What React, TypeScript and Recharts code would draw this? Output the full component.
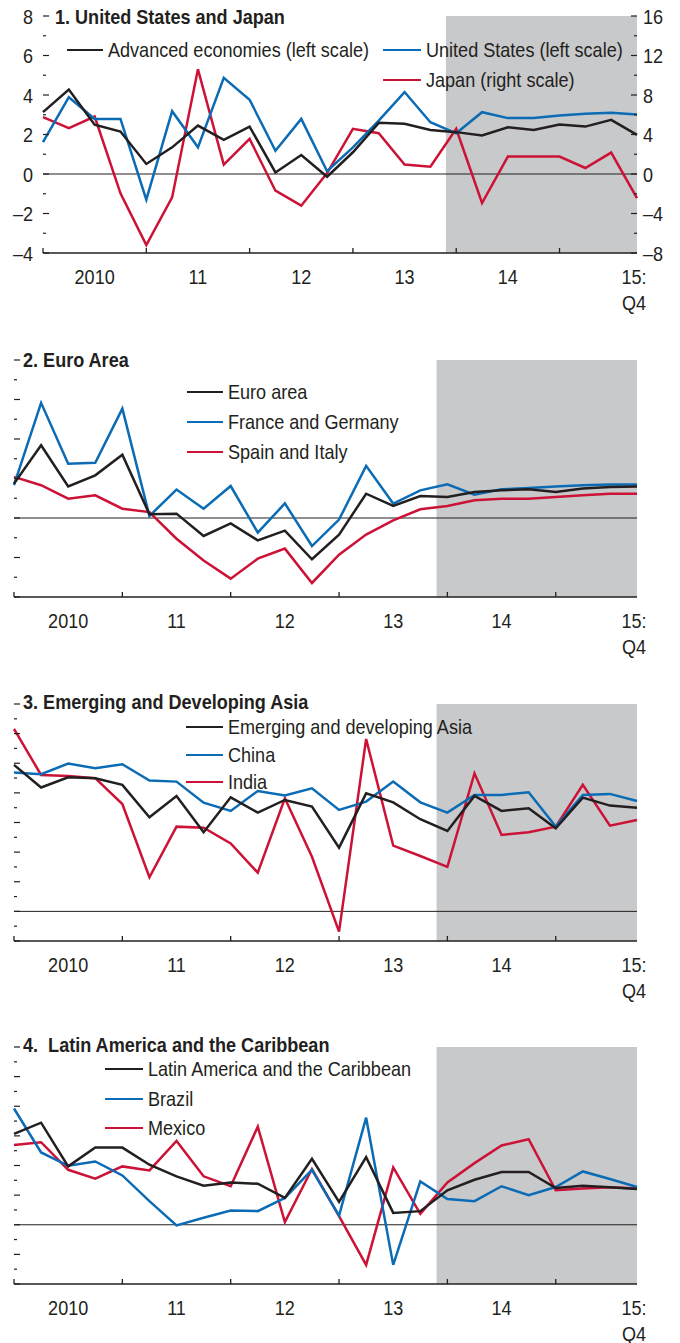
import React from 'react';
import { LineChart, Line, XAxis, YAxis, ReferenceArea, ReferenceLine, Legend } from 'recharts';

// quarterly, 2010:Q1 .. 2015:Q4
const QUARTERS = [
  '2010:Q1', '2010:Q2', '2010:Q3', '2010:Q4',
  '2011:Q1', '2011:Q2', '2011:Q3', '2011:Q4',
  '2012:Q1', '2012:Q2', '2012:Q3', '2012:Q4',
  '2013:Q1', '2013:Q2', '2013:Q3', '2013:Q4',
  '2014:Q1', '2014:Q2', '2014:Q3', '2014:Q4',
  '2015:Q1', '2015:Q2', '2015:Q3', '2015:Q4',
];
const YEAR_LABELS = ['2010', '11', '12', '13', '14'];
const LAST_LABEL = ['15:', 'Q4'];
const X_TICKS = [0, 2, 4, 6, 8, 10, 12, 14, 16, 18, 20, 23];
const PROJ_START = 15.6;

// 1. United States and Japan
const ADVANCED = [3.13, 4.28, 2.5, 2.15, 0.51, 1.35, 2.45, 1.73, 2.4, 0.08, 0.96, -0.14, 1.1, 2.59, 2.54, 2.23, 2.12, 1.95, 2.37, 2.23, 2.5, 2.4, 2.74, 1.98];
const US = [1.61, 3.89, 2.79, 2.79, -1.3, 3.18, 1.35, 4.87, 3.76, 1.18, 2.79, 0.14, 1.35, 2.7, 4.15, 2.62, 2.06, 3.13, 2.83, 2.83, 2.96, 3.05, 3.1, 3.01];
const JAPAN = [5.75, 4.64, 5.82, -1.96, -7.2, -2.37, 10.6, 0.95, 3.55, -1.69, -3.21, 0.1, 4.57, 4.13, 0.95, 0.74, 4.57, -2.94, 1.76, 1.76, 1.76, 0.61, 2.17, -2.44];

// 2. Euro Area
const EURO = [1.74, 3.68, 1.6, 2.16, 3.2, 0.19, 0.22, -0.91, -0.27, -1.13, -0.64, -2.09, -0.85, 1.23, 0.61, 1.11, 1.06, 1.32, 1.4, 1.45, 1.32, 1.49, 1.57, 1.6];
const FRA_DEU = [1.66, 5.83, 2.75, 2.8, 5.54, 0.1, 1.44, 0.47, 1.62, -0.74, 0.74, -1.42, -0.08, 2.64, 0.73, 1.4, 1.71, 1.18, 1.45, 1.52, 1.6, 1.66, 1.69, 1.69];
const ESP_ITA = [2.08, 1.66, 0.98, 1.15, 0.47, 0.3, -1.05, -2.15, -3.07, -2.06, -1.55, -3.29, -1.86, -0.84, -0.12, 0.44, 0.61, 0.9, 0.98, 0.98, 1.06, 1.15, 1.23, 1.23];

// 3. Emerging and Developing Asia
const EDA = [9.89, 8.36, 9.05, 8.99, 8.54, 6.35, 7.79, 5.34, 7.7, 6.67, 7.52, 7.07, 4.3, 7.97, 7.36, 6.22, 5.43, 7.79, 6.78, 6.96, 5.61, 7.68, 7.14, 7.0];
const CHINA = [9.37, 9.26, 9.98, 9.66, 9.93, 8.83, 8.76, 7.34, 6.78, 8.13, 7.82, 8.31, 6.85, 7.41, 8.76, 7.36, 6.67, 7.86, 7.86, 8.04, 5.72, 7.86, 7.93, 7.45];
const INDIA = [12.32, 9.21, 9.14, 8.99, 7.25, 2.3, 5.72, 5.65, 4.59, 2.61, 7.64, 3.69, -1.37, 11.64, 4.44, 3.74, 3.0, 9.32, 5.16, 5.34, 5.72, 8.54, 5.79, 6.17];

// 4. Latin America and the Caribbean
const LAC = [6.13, 6.89, 3.94, 5.21, 5.21, 4.05, 3.27, 2.64, 2.86, 2.77, 1.81, 4.45, 1.54, 4.56, 0.8, 0.92, 2.33, 3.04, 3.56, 3.56, 2.48, 2.64, 2.53, 2.42];
const BRAZIL = [7.85, 4.88, 3.98, 4.27, 3.33, 1.59, -0.04, 0.47, 0.96, 0.92, 1.81, 3.71, 0.62, 7.23, -2.71, 2.93, 1.74, 1.59, 2.6, 1.99, 2.55, 3.6, 3.09, 2.55];
const MEXICO = [5.39, 5.57, 3.71, 3.11, 3.94, 3.67, 5.66, 3.27, 2.6, 6.62, 0.18, 3.76, 0.58, -2.71, 3.87, 0.74, 2.86, 4.16, 5.35, 5.77, 2.33, 2.44, 2.53, 2.44];

const TICKS_P1_LEFT = [-4, -3, -2, -1, 0, 1, 2, 3, 4, 5, 6, 7, 8];
const TICKS_P1_RIGHT = [-8, -6, -4, -2, 0, 2, 4, 6, 8, 10, 12, 14, 16];
const TICKS_P2 = [-4, -3, -2, -1, 0, 1, 2, 3, 4, 5, 6, 7, 8];
const TICKS_P3 = [-2, -1, 0, 1, 2, 3, 4, 5, 6, 7, 8, 9, 10, 11, 12, 13, 14];
const TICKS_P4 = [-4, -3, -2, -1, 0, 1, 2, 3, 4, 5, 6, 7, 8, 9, 10, 11, 12];

const INK = '#231f20';
const BLUE = '#0b6bb5';
const RED = '#cc1236';
const SHADE = '#c8c9cb';
// no condensed face installed, so Liberation Sans squeezed horizontally
const FONT = "'Liberation Sans', Arial, sans-serif";
const FS = 21;
const SQUEEZE = 0.86;

const W = 680;
const H = 344;
const PLOT_TOP = 16;
const PLOT_H = 237;
const X_AXIS_H = 60;

const fmt = (v: number) => (v < 0 ? '\u2013' + Math.abs(v) : String(v));

function SvgLabel({ x, y, anchor, children }: { x: number; y: number; anchor: 'start' | 'middle' | 'end'; children: React.ReactNode }) {
  return (
    <g transform={`translate(${x},${y}) scale(${SQUEEZE},1)`}>
      <text x={0} y={0} dy="0.36em" textAnchor={anchor} fill={INK} fontFamily={FONT} fontSize={FS}>
        {children}
      </text>
    </g>
  );
}

function XTick(props: any) {
  const { x, y, payload } = props;
  const v = payload.value;
  if (v === 23) {
    return (
      <g>
        <SvgLabel x={x - 3} y={y + 23} anchor="middle">{LAST_LABEL[0]}</SvgLabel>
        <SvgLabel x={x - 3} y={y + 49} anchor="middle">{LAST_LABEL[1]}</SvgLabel>
      </g>
    );
  }
  if (v % 4 === 0) {
    return <line x1={x} x2={x} y1={y} y2={y - 5} stroke={INK} strokeWidth={1.3} />;
  }
  return <SvgLabel x={x} y={y + 23} anchor="middle">{YEAR_LABELS[(v - 2) / 4]}</SvgLabel>;
}

const yTick = (side: 'left' | 'right', majorStep: number, labels: boolean) => (props: any) => {
  const { x, y, payload } = props;
  const v = payload.value;
  const major = v % majorStep === 0;
  const dir = side === 'left' ? 1 : -1;
  return (
    <g>
      <line x1={x} x2={x + dir * (major ? 6 : 3)} y1={y} y2={y} stroke={INK} strokeWidth={1.2} />
      {labels && major && (
        <SvgLabel x={side === 'left' ? x - 10 : x + 6} y={y} anchor={side === 'left' ? 'end' : 'start'}>
          {fmt(v)}
        </SvgLabel>
      )}
    </g>
  );
};

const squeezed: React.CSSProperties = {
  display: 'inline-block',
  transform: `scaleX(${SQUEEZE})`,
  transformOrigin: 'left center',
};

type Spot = { x: number; y: number; w: number };

function LegendBox({ payload, spots }: { payload?: any[]; spots: Record<string, Spot> }) {
  return (
    <div style={{ position: 'relative', width: W, height: 0 }}>
      {(payload || []).map((entry) => {
        const s = spots[entry.dataKey];
        if (!s) return null;
        return (
          <div
            key={entry.dataKey}
            style={{
              position: 'absolute',
              left: s.x,
              top: s.y - 13,
              height: 26,
              display: 'flex',
              alignItems: 'center',
              whiteSpace: 'nowrap',
              fontFamily: FONT,
              fontSize: FS,
              color: INK,
            }}
          >
            <span style={{ display: 'inline-block', width: s.w, borderTop: `2.5px solid ${entry.color}`, marginRight: 5 }} />
            <span style={squeezed}>{entry.value}</span>
          </div>
        );
      })}
    </div>
  );
}

type Series = { key: string; name: string; color: string; values: number[]; axis: string };

type PanelProps = {
  top: number;
  title: string;
  titleX: number;
  titleY: number;
  plotLeft: number;
  series: Series[];
  leftTicks: number[];
  leftMajor: number;
  leftLabels: boolean;
  rightTicks: number[];
  rightMajor: number;
  rightDomain: [number, number];
  spots: Record<string, Spot>;
};

function Panel(p: PanelProps) {
  const rows = QUARTERS.map((q, i) => {
    const row: Record<string, number | string> = { i, q };
    p.series.forEach((s) => {
      row[s.key] = s.values[i];
    });
    return row;
  });
  const leftDomain: [number, number] = [p.leftTicks[0], p.leftTicks[p.leftTicks.length - 1]];
  return (
    <div style={{ position: 'absolute', top: p.top, left: 0, width: W, height: H }}>
      <LineChart
        width={W}
        height={H}
        data={rows}
        margin={{ top: PLOT_TOP, right: 0, bottom: H - PLOT_TOP - PLOT_H - X_AXIS_H, left: 0 }}
      >
        <XAxis
          dataKey="i"
          type="number"
          domain={[0, 23]}
          ticks={X_TICKS}
          interval={0}
          tick={XTick}
          tickLine={false}
          tickSize={0}
          tickMargin={0}
          axisLine={{ stroke: INK, strokeWidth: 1.3 }}
          height={X_AXIS_H}
        />
        <YAxis
          yAxisId="l"
          orientation="left"
          type="number"
          domain={leftDomain}
          ticks={p.leftTicks}
          interval={0}
          width={p.plotLeft}
          axisLine={false}
          tickLine={false}
          tickSize={0}
          tickMargin={0}
          tick={yTick('left', p.leftMajor, p.leftLabels)}
        />
        <YAxis
          yAxisId="r"
          orientation="right"
          type="number"
          domain={p.rightDomain}
          ticks={p.rightTicks}
          interval={0}
          width={W - 637}
          axisLine={false}
          tickLine={false}
          tickSize={0}
          tickMargin={0}
          tick={yTick('right', p.rightMajor, true)}
        />
        <ReferenceArea yAxisId="l" x1={PROJ_START} x2={23} fill={SHADE} fillOpacity={1} stroke="none" />
        <ReferenceLine yAxisId="l" y={0} stroke={INK} strokeWidth={1} />
        {p.series.map((s) => (
          <Line
            key={s.key}
            yAxisId={s.axis}
            dataKey={s.key}
            name={s.name}
            stroke={s.color}
            strokeWidth={2.5}
            dot={false}
            type="linear"
            isAnimationActive={false}
          />
        ))}
        <Legend
          layout="vertical"
          align="center"
          verticalAlign="middle"
          wrapperStyle={{ top: 0, left: 0, width: W, height: 0 }}
          content={(props: any) => <LegendBox payload={props.payload} spots={p.spots} />}
        />
      </LineChart>
      <div
        style={{
          position: 'absolute',
          left: p.titleX,
          top: p.titleY - 13,
          height: 26,
          lineHeight: '26px',
          fontFamily: FONT,
          fontSize: FS,
          fontWeight: 'bold',
          color: INK,
          whiteSpace: 'pre',
        }}
      >
        <span style={squeezed}>{p.title}</span>
      </div>
    </div>
  );
}

export default function App() {
  return (
    <div style={{ position: 'relative', width: W, height: 1343, background: '#fff', overflow: 'hidden' }}>
      <style>{'body{margin:0;background:#fff}'}</style>
      <Panel
        top={0}
        title="1. United States and Japan"
        titleX={55}
        titleY={17}
        plotLeft={43}
        series={[
          { key: 'jpn', name: 'Japan (right scale)', color: RED, values: JAPAN, axis: 'r' },
          { key: 'us', name: 'United States (left scale)', color: BLUE, values: US, axis: 'l' },
          { key: 'adv', name: 'Advanced economies (left scale)', color: INK, values: ADVANCED, axis: 'l' },
        ]}
        leftTicks={TICKS_P1_LEFT}
        leftMajor={2}
        leftLabels
        rightTicks={TICKS_P1_RIGHT}
        rightMajor={4}
        rightDomain={[-8, 16]}
        spots={{ adv: { x: 67, y: 50, w: 36 }, us: { x: 383, y: 50, w: 38 }, jpn: { x: 383, y: 80, w: 38 } }}
      />
      <Panel
        top={344}
        title="2. Euro Area"
        titleX={23}
        titleY={16}
        plotLeft={14}
        series={[
          { key: 'esit', name: 'Spain and Italy', color: RED, values: ESP_ITA, axis: 'l' },
          { key: 'frde', name: 'France and Germany', color: BLUE, values: FRA_DEU, axis: 'l' },
          { key: 'euro', name: 'Euro area', color: INK, values: EURO, axis: 'l' },
        ]}
        leftTicks={TICKS_P2}
        leftMajor={2}
        leftLabels={false}
        rightTicks={TICKS_P2}
        rightMajor={2}
        rightDomain={[-4, 8]}
        spots={{ euro: { x: 187, y: 48, w: 36 }, frde: { x: 187, y: 78, w: 36 }, esit: { x: 187, y: 108, w: 36 } }}
      />
      <Panel
        top={688}
        title="3. Emerging and Developing Asia"
        titleX={23}
        titleY={14}
        plotLeft={14}
        series={[
          { key: 'ind', name: 'India', color: RED, values: INDIA, axis: 'l' },
          { key: 'chn', name: 'China', color: BLUE, values: CHINA, axis: 'l' },
          { key: 'eda', name: 'Emerging and developing Asia', color: INK, values: EDA, axis: 'l' },
        ]}
        leftTicks={TICKS_P3}
        leftMajor={2}
        leftLabels={false}
        rightTicks={TICKS_P3}
        rightMajor={2}
        rightDomain={[-2, 14]}
        spots={{ eda: { x: 186, y: 39, w: 37 }, chn: { x: 186, y: 67, w: 37 }, ind: { x: 186, y: 94, w: 37 } }}
      />
      <Panel
        top={1031}
        title="4.  Latin America and the Caribbean"
        titleX={23}
        titleY={14}
        plotLeft={14}
        series={[
          { key: 'mex', name: 'Mexico', color: RED, values: MEXICO, axis: 'l' },
          { key: 'bra', name: 'Brazil', color: BLUE, values: BRAZIL, axis: 'l' },
          { key: 'lac', name: 'Latin America and the Caribbean', color: INK, values: LAC, axis: 'l' },
        ]}
        leftTicks={TICKS_P4}
        leftMajor={2}
        leftLabels={false}
        rightTicks={TICKS_P4}
        rightMajor={2}
        rightDomain={[-4, 12]}
        spots={{ lac: { x: 105, y: 38, w: 38 }, bra: { x: 105, y: 68, w: 38 }, mex: { x: 105, y: 97, w: 38 } }}
      />
    </div>
  );
}
